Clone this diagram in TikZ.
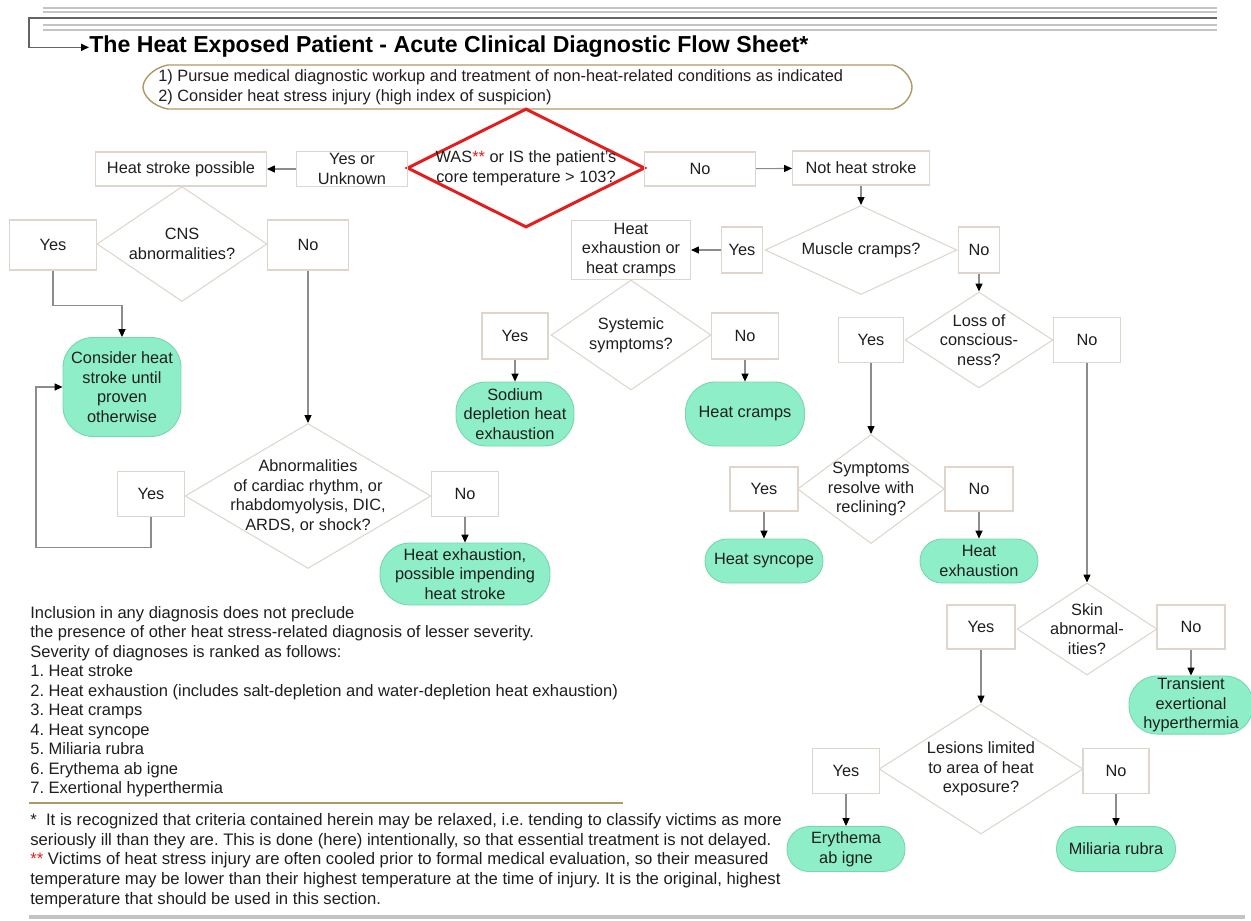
\documentclass[tikz,border=0pt]{standalone}
\usepackage{fontspec}
\setmainfont{Liberation Sans}
\usepackage{tikz}
\usetikzlibrary{shapes.geometric,arrows.meta}

\definecolor{boxline}{RGB}{222,214,204}
\definecolor{linegray}{RGB}{140,140,140}
\definecolor{mint}{RGB}{142,238,200}
\definecolor{mintline}{RGB}{118,214,172}
\definecolor{heatred}{RGB}{226,30,30}
\definecolor{tanline}{RGB}{176,152,100}
\definecolor{hdrgray}{RGB}{196,196,196}
\definecolor{hdrdark}{RGB}{100,100,100}
\definecolor{textdark}{RGB}{30,30,30}

\newcommand{\fstext}{\fontsize{9.3}{11.2}\selectfont}
\newcommand{\redstars}{{\color{heatred}**}}
\frenchspacing

\begin{document}
\begin{tikzpicture}[x=0.02cm, y=-0.02cm, >={Triangle[color=black,length=4.5pt,width=4pt]},
	every node/.style={font=\fstext, text=textdark},
	ans/.style={rectangle, draw=boxline, line width=0.6pt, align=center, inner sep=1pt},
	dec/.style={diamond, draw=boxline, line width=0.6pt, inner sep=0pt},
	dectext/.style={align=center, inner sep=0pt},
	term/.style={rectangle, fill=mint, draw=mintline, line width=0.5pt, rounded corners=0.44cm, align=center, inner sep=1pt},
	link/.style={draw=linegray, line width=0.6pt, ->}]
		\useasboundingbox (0,0) rectangle (1251,920);
		% header rules
		\draw[hdrgray, line width=1.1pt] (43,8) -- (1217,8);
		\draw[hdrgray, line width=1.1pt] (43,12) -- (1217,12);
		\draw[hdrgray, line width=1.1pt] (43,25) -- (1217,25);
		\draw[hdrgray, line width=1.1pt] (43,30) -- (1217,30);
		\node[font=\fontsize{13.15}{15}\selectfont\bfseries, text=black, anchor=base west, inner sep=0pt] (title) at (89,52) {The Heat Exposed Patient - Acute Clinical Diagnostic Flow Sheet*};
		\draw[hdrdark, line width=0.8pt, ->] (1217,18) -- (29,18) |- (title.mid west);
		% intro
		\node[anchor=west, align=left, inner sep=0pt] (intro) at (158,87) {1) Pursue medical diagnostic workup and treatment of non-heat-related conditions as indicated\\2) Consider heat stress injury (high index of suspicion)};
		\draw[tanline, line width=0.8pt] (168,65) -- (893,65) .. controls (905,68) and (912,80) .. (912,87) .. controls (912,95) and (905,106) .. (893,109) -- (168,109) .. controls (152,106) and (143,95) .. (143,87) .. controls (143,80) and (152,68) .. (168,65);
		% core temperature
		\node[dec, draw=heatred, line width=1.7pt, minimum width=4.76cm, minimum height=2.38cm, label={[dectext]center:{WAS\redstars{} or IS the patient's\\core temperature > 103?}}] (core) at (526,168) {};
		\node[ans, minimum width=2.22cm, minimum height=0.68cm] (yesunk) at (352,169) {Yes or\\Unknown};
		\node[ans, minimum width=3.42cm, minimum height=0.68cm] (hsposs) at (181,169) {Heat stroke possible};
		\node[ans, minimum width=2.22cm, minimum height=0.68cm] (nocore) at (700,169) {No};
		\node[ans, minimum width=2.74cm, minimum height=0.68cm] (nothsk) at (861,168) {Not heat stroke};
		\draw[link] (yesunk) -- (hsposs);
		\draw[link] (nocore) -- (nothsk);
		% heat stroke side
		\node[dec, minimum width=3.4cm, minimum height=2.3cm, label={[dectext]center:{CNS\\abnormalities?}}] (cns) at (182,244) {};
		\node[ans, minimum width=1.74cm, minimum height=1cm] (cnsyes) at (53,245) {Yes};
		\node[ans, minimum width=1.62cm, minimum height=1cm] (cnsno) at (308,245) {No};
		\node[term, rounded corners=0.6cm, minimum width=2.36cm, minimum height=1.98cm] (consider) at (122,387) {Consider heat\\stroke until\\proven\\otherwise};
		\node[dec, minimum width=4.92cm, minimum height=2.9cm, label={[dectext]center:{Abnormalities\\of cardiac rhythm, or\\rhabdomyolysis, DIC,\\ARDS, or shock?}}] (abn) at (308,496) {};
		\node[ans, minimum width=1.34cm, minimum height=0.9cm] (abnyes) at (151,494) {Yes};
		\node[ans, minimum width=1.34cm, minimum height=0.9cm] (abnno) at (465,494) {No};
		\node[term, rounded corners=0.6cm, minimum width=3.4cm, minimum height=1.24cm] (hepos) at (465,574) {Heat exhaustion,\\possible impending\\heat stroke};
		\draw[link] (cnsyes.south) -- ++(0,35) -| (consider.north);
		\draw[link] (cnsno) -- (abn);
		\draw[link] (abnyes.south) -- ++(0,30) -- ++(-115,0) |- (consider.west);
		\draw[link] (abnno) -- (hepos);
		% muscle cramps
		\node[dec, minimum width=3.84cm, minimum height=1.78cm, label={[dectext]center:{Muscle cramps?}}] (muscle) at (861,250) {};
		\node[ans, minimum width=0.82cm, minimum height=0.92cm] (myes) at (742,250) {Yes};
		\node[ans, minimum width=0.82cm, minimum height=0.92cm] (mno) at (979,250) {No};
		\node[ans, minimum width=2.38cm, minimum height=1.18cm] (hecr) at (631,250) {Heat\\exhaustion or\\heat cramps};
		\draw[link] (nothsk) -- (muscle);
		\draw[link] (myes) -- (hecr);
		\node[dec, minimum width=3.2cm, minimum height=2.2cm, label={[dectext]center:{Systemic\\symptoms?}}] (syst) at (631,335) {};
		\node[ans, minimum width=1.32cm, minimum height=0.92cm] (syyes) at (515,336) {Yes};
		\node[ans, minimum width=1.34cm, minimum height=0.92cm] (syno) at (745,336) {No};
		\node[term, rounded corners=0.6cm, minimum width=2.36cm, minimum height=1.28cm] (sodium) at (515,414) {Sodium\\depletion heat\\exhaustion};
		\node[term, rounded corners=0.6cm, minimum width=2.38cm, minimum height=1.28cm] (cramps) at (745,414) {Heat cramps};
		\draw[link] (syyes) -- (sodium);
		\draw[link] (syno) -- (cramps);
		% consciousness
		\node[dec, minimum width=2.96cm, minimum height=1.92cm, label={[dectext]center:{Loss of\\conscious-\\ness?}}] (loc) at (979,340) {};
		\node[ans, minimum width=1.3cm, minimum height=0.9cm] (locyes) at (871,340) {Yes};
		\node[ans, minimum width=1.34cm, minimum height=0.9cm] (locno) at (1087,340) {No};
		\draw[link] (mno) -- (loc);
		\node[dec, minimum width=2.94cm, minimum height=2.18cm, label={[dectext]center:{Symptoms\\resolve with\\reclining?}}] (recl) at (871,489) {};
		\node[ans, minimum width=1.36cm, minimum height=0.88cm] (recyes) at (764,489) {Yes};
		\node[ans, minimum width=1.36cm, minimum height=0.88cm] (recno) at (979,489) {No};
		\node[term, minimum width=2.36cm, minimum height=0.88cm] (syncope) at (764,561) {Heat syncope};
		\node[term, minimum width=2.36cm, minimum height=0.88cm] (hexh) at (979,561) {Heat\\exhaustion};
		\draw[link] (locyes) -- (recl);
		\draw[link] (recyes) -- (syncope);
		\draw[link] (recno) -- (hexh);
		% skin
		\node[dec, minimum width=2.8cm, minimum height=1.84cm, label={[dectext]center:{Skin\\abnormal-\\ities?}}] (skin) at (1087,629) {};
		\node[ans, minimum width=1.36cm, minimum height=0.88cm] (skyes) at (981,627) {Yes};
		\node[ans, minimum width=1.36cm, minimum height=0.88cm] (skno) at (1191,627) {No};
		\node[term, rounded corners=0.56cm, minimum width=2.48cm, minimum height=1.16cm] (transient) at (1191,705) {Transient\\exertional\\hyperthermia};
		\draw[link] (locno) -- (skin);
		\draw[link] (skno) -- (transient);
		\node[dec, minimum width=4.08cm, minimum height=2.6cm, label={[dectext]center:{Lesions limited\\to area of heat\\exposure?}}] (lesion) at (981,769) {};
		\node[ans, minimum width=1.34cm, minimum height=0.9cm] (leyes) at (846,771) {Yes};
		\node[ans, minimum width=1.32cm, minimum height=0.9cm] (leno) at (1116,771) {No};
		\node[term, minimum width=2.36cm, minimum height=0.9cm] (erythema) at (846,849) {Erythema\\ab igne};
		\node[term, minimum width=2.38cm, minimum height=0.9cm] (miliaria) at (1116,849) {Miliaria rubra};
		\draw[link] (skyes) -- (lesion);
		\draw[link] (leyes) -- (erythema);
		\draw[link] (leno) -- (miliaria);
		% notes
		\node[anchor=north west, align=left, inner sep=0pt, font=\fontsize{9.4}{11.1}\selectfont] (rank) at (30,606) {Inclusion in any diagnosis does not preclude\\the presence of other heat stress-related diagnosis of lesser severity.\\Severity of diagnoses is ranked as follows:\\1. Heat stroke\\2. Heat exhaustion (includes salt-depletion and water-depletion heat exhaustion)\\3. Heat cramps\\4. Heat syncope\\5. Miliaria rubra\\6. Erythema ab igne\\7. Exertional hyperthermia};
		\draw[tanline, line width=1.3pt] (29,803) -- (623,803);
		\node[anchor=north west, align=left, inner sep=0pt, font=\fontsize{9.5}{11.2}\selectfont] (foot) at (30,813) {*\ \ It is recognized that criteria contained herein may be relaxed, i.e. tending to classify victims as more\\seriously ill than they are. This is done (here) intentionally, so that essential treatment is not delayed.\\\redstars{} Victims of heat stress injury are often cooled prior to formal medical evaluation, so their measured\\temperature may be lower than their highest temperature at the time of injury. It is the original, highest\\temperature that should be used in this section.};
		\draw[hdrgray, line width=2pt] (29,917) -- (1245,917);
		
	\end{tikzpicture}
\end{document}
